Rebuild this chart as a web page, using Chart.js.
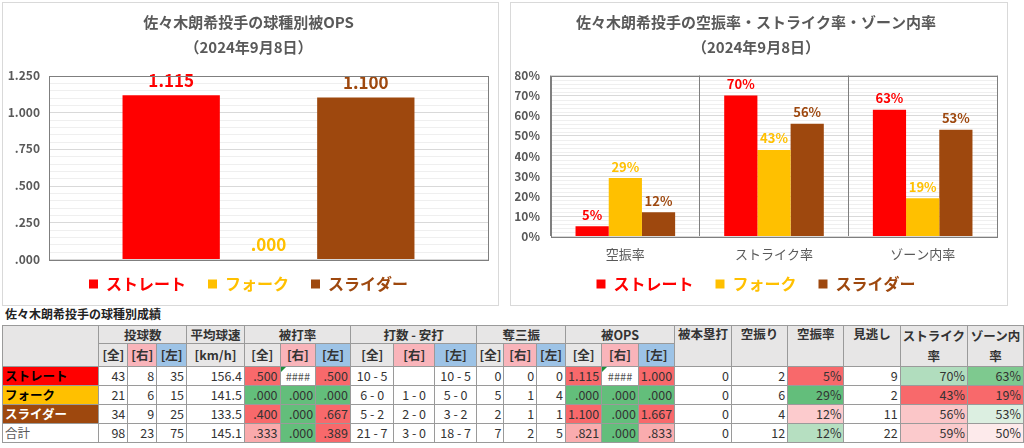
<!DOCTYPE html>
<html>
<head>
<meta charset="utf-8">
<script src="https://cdn.jsdelivr.net/npm/chart.js@4"></script>
<style>
  body { margin: 0; width: 1024px; height: 448px; background: #fff; font-family: "Noto Sans CJK JP", sans-serif; overflow: hidden; position: relative; }
  .panel { position: absolute; top: 2px; height: 302px; border: 1px solid #d9d9d9; background: #fff; }
  #p1 { left: 2px; width: 495px; }
  #p2 { left: 510px; width: 496px; }
  .panel canvas { display: block; }
  #ttl { position: absolute; left: 5px; top: 305px; font-size: 12px; font-weight: bold; color: #222; }
  table { position: absolute; left: 2px; top: 325px; border-collapse: collapse; table-layout: fixed; font-size: 12.5px; color: #333; }
  td { border: 1px solid #9a9a9a; padding: 0 2px; white-space: nowrap; overflow: hidden; line-height: 14px; text-align: right; }
  .h { background: #e7e6e6; font-weight: bold; text-align: center; color: #333; }
  .hr { background: #f9b4ba; }
  .hl { background: #9dc3e6; }
  .err { position: relative; color: #555; text-align: center; font-size: 11px; }
  .err::before { content: ""; position: absolute; left: 0; top: 0; border-top: 5px solid #1e8f3a; border-right: 5px solid transparent; }
</style>
</head>
<body>
<div class="panel" id="p1"><canvas id="opsChart" width="495" height="302"></canvas></div>
<div class="panel" id="p2"><canvas id="rateChart" width="496" height="302"></canvas></div>
<div id="ttl">佐々木朗希投手の球種別成績</div>
<table id="tbl"></table>
<script>
const pitchNames = ['ストレート', 'フォーク', 'スライダー'];
const pitchColors = ['#ff0000', '#ffc000', '#9e480e'];

// 被OPS
const opsCategory = [''];
const opsValues = [1.115, 0.000, 1.100];
const opsTicks = [0, 0.25, 0.5, 0.75, 1.0, 1.25];

// 空振率・ストライク率・ゾーン内率 (%)
const rateCategories = ['空振率', 'ストライク率', 'ゾーン内率'];
const straightRates = [5, 70, 63];
const forkRates = [29, 43, 19];
const sliderRates = [12, 56, 53];

// table
const tableHeadTop = ['投球数', '平均球速', '被打率', '打数 - 安打', '奪三振', '被OPS'];
const tableRows = [
  ['ストレート', '43', '8', '35', '156.4', '.500', '####', '.500', '10 - 5', '', '10 - 5', '0', '0', '0', '1.115', '####', '1.000', '0', '2', '5%', '9', '70%', '63%'],
  ['フォーク', '21', '6', '15', '141.5', '.000', '.000', '.000', '6 - 0', '1 - 0', '5 - 0', '5', '1', '4', '.000', '.000', '.000', '0', '6', '29%', '2', '43%', '19%'],
  ['スライダー', '34', '9', '25', '133.5', '.400', '.000', '.667', '5 - 2', '2 - 0', '3 - 2', '2', '1', '1', '1.100', '.000', '1.667', '0', '4', '12%', '11', '56%', '53%'],
  ['合計', '98', '23', '75', '145.1', '.333', '.000', '.389', '21 - 7', '3 - 0', '18 - 7', '7', '2', '5', '.821', '.000', '.833', '0', '12', '12%', '22', '59%', '50%']
];
// conditional fill per cell (col index -> colour)
const R = '#f8696b', G = '#63be7b';
const cellFills = [
  { 5: R, 7: R, 14: R, 16: R, 19: R, 21: '#b1ddbe', 22: '#7ec98f' },
  { 5: G, 6: G, 7: G, 14: G, 15: G, 16: G, 19: G, 21: R, 22: R },
  { 5: R, 6: G, 7: R, 14: R, 15: G, 16: R, 19: '#fccbcd', 21: '#fbc6c8', 22: '#dcefe1' },
  { 5: '#faaaac', 6: G, 7: R, 14: '#faacae', 15: G, 16: '#faacae', 19: '#b6dfc1', 21: '#fbcacc', 22: '#fdeaeb' }
];
const colWidths = [98, 29, 29, 30, 58, 36, 36, 35, 44, 41, 43, 25, 33, 29, 36, 37, 36, 57, 57, 57, 57, 58, 56];

const fontFamily = '"Noto Sans CJK JP", sans-serif';
const grayText = '#595959';

function fmtOps(v) {
  const s = v.toFixed(3);
  return v >= 1 ? s : s.slice(1);
}

const plotBorder = {
  id: 'plotBorder',
  afterDraw(chart) {
    const a = chart.chartArea, c = chart.ctx;
    c.save();
    c.strokeStyle = '#7f7f7f';
    c.lineWidth = 1;
    c.strokeRect(Math.round(a.left) + 0.5, Math.round(a.top) + 0.5, Math.round(a.right - a.left), Math.round(a.bottom - a.top));
    c.restore();
  }
};

// grid + labels of a value axis from a fixed list of tick values
function valueAxis(values, fmt, parts) {
  return {
    id: 'valueAxis',
    beforeDatasetsDraw(chart) {
      const y = chart.scales.y, a = chart.chartArea, c = chart.ctx;
      const line = (v, col) => {
        const py = Math.round(y.getPixelForValue(v)) + 0.5;
        c.strokeStyle = col;
        c.beginPath(); c.moveTo(a.left, py); c.lineTo(a.right, py); c.stroke();
      };
      c.save();
      c.lineWidth = 1;
      for (let t = 0; t < values.length - 1; t++) {
        for (let k = 1; k < parts; k++) line(values[t] + (values[t + 1] - values[t]) * k / parts, '#efefef');
      }
      values.forEach(v => line(v, '#d9d9d9'));
      c.restore();
    },
    afterDraw(chart) {
      const y = chart.scales.y, a = chart.chartArea, c = chart.ctx;
      c.save();
      c.font = 'bold 12px ' + fontFamily;
      c.fillStyle = grayText;
      c.textAlign = 'right';
      c.textBaseline = 'middle';
      values.forEach(v => c.fillText(fmt(v), a.left - 9, y.getPixelForValue(v)));
      c.restore();
    }
  };
}

// faint minor gridlines between the labelled ticks
function minorGrid(parts) {
  return {
    id: 'minorGrid',
    beforeDatasetsDraw(chart) {
      const y = chart.scales.y, a = chart.chartArea, c = chart.ctx;
      c.save();
      c.strokeStyle = '#efefef';
      c.lineWidth = 1;
      c.beginPath();
      for (let t = 0; t < y.ticks.length - 1; t++) {
        const v0 = y.ticks[t].value, v1 = y.ticks[t + 1].value;
        for (let k = 1; k < parts; k++) {
          const py = Math.round(y.getPixelForValue(v0 + (v1 - v0) * k / parts)) + 0.5;
          c.moveTo(a.left, py);
          c.lineTo(a.right, py);
        }
      }
      c.stroke();
      c.restore();
    }
  };
}

function barLabels(size, fmt, gap) {
  return {
    id: 'barLabels',
    afterDatasetsDraw(chart) {
      const c = chart.ctx;
      c.save();
      c.font = 'bold ' + size + 'px ' + fontFamily;
      c.textAlign = 'center';
      c.textBaseline = 'bottom';
      chart.data.datasets.forEach((ds, i) => {
        chart.getDatasetMeta(i).data.forEach((bar, j) => {
          c.fillStyle = ds.backgroundColor;
          c.fillText(fmt(ds.data[j]), bar.x, bar.y - gap);
        });
      });
      c.restore();
    }
  };
}

// legend sits closer to the plot than Chart.js' default box allows
function legendNudge(shrink, shift) {
  return {
    id: 'legendNudge',
    beforeInit(chart) {
      const lg = chart.legend, fit = lg.fit;
      lg.fit = function () { fit.call(this); this.height -= shrink; };
    },
    afterLayout(chart) {
      chart.legend.top += shift;
    }
  };
}

const legendOpts = {
  position: 'bottom',
  labels: {
    boxWidth: 9, boxHeight: 9, padding: 22,
    font: { size: 16, weight: 'bold', family: fontFamily },
    generateLabels: chart => chart.data.datasets.map((d, i) => ({
      text: d.label, fillStyle: d.backgroundColor, strokeStyle: d.backgroundColor,
      lineWidth: 0, fontColor: d.backgroundColor, datasetIndex: i, hidden: false
    }))
  }
};

function titleOpts(lines) {
  return {
    display: true, text: lines, color: grayText,
    font: { size: 15, weight: 'bold', family: fontFamily, lineHeight: 1.65 },
    padding: { top: 7, bottom: 16 }
  };
}

new Chart(document.getElementById('opsChart'), {
  type: 'bar',
  data: {
    labels: opsCategory,
    datasets: pitchNames.map((n, i) => ({
      label: n, data: [opsValues[i]], backgroundColor: pitchColors[i],
      categoryPercentage: 0.665, barPercentage: 1
    }))
  },
  options: {
    responsive: false, animation: false,
    layout: { padding: { left: 6, right: 10, bottom: 0 } },
    plugins: { title: titleOpts(['佐々木朗希投手の球種別被OPS', '（2024年9月8日）']), legend: legendOpts, tooltip: { enabled: false } },
    scales: {
      x: { ticks: { display: false }, grid: { display: false }, border: { display: false } },
      y: {
        min: opsTicks[0], max: opsTicks[opsTicks.length - 1],
        afterFit(s) { s.width = 40; },
        border: { display: false },
        grid: { display: false },
        ticks: { display: false }
      }
    }
  },
  plugins: [valueAxis(opsTicks, fmtOps, 5), plotBorder, barLabels(17, fmtOps, 6), legendNudge(10, -13)]
});

const rateSeries = [straightRates, forkRates, sliderRates];
new Chart(document.getElementById('rateChart'), {
  type: 'bar',
  data: {
    labels: rateCategories,
    datasets: pitchNames.map((n, i) => ({
      label: n, data: rateSeries[i], backgroundColor: pitchColors[i],
      categoryPercentage: 0.67, barPercentage: 1
    }))
  },
  options: {
    responsive: false, animation: false,
    layout: { padding: { left: 4, right: 10, bottom: 0 } },
    plugins: { title: titleOpts(['佐々木朗希投手の空振率・ストライク率・ゾーン内率', '（2024年9月8日）']), legend: legendOpts, tooltip: { enabled: false } },
    scales: {
      x: {
        border: { display: false },
        grid: { offset: true, drawTicks: false, color: '#7f7f7f', z: 1 },
        ticks: { padding: 10, color: grayText, font: { size: 13, family: fontFamily } }
      },
      y: {
        min: 0, max: 80,
        afterFit(s) { s.width = 36; },
        border: { display: false },
        grid: { drawTicks: false, color: '#d9d9d9' },
        ticks: { count: 9, autoSkip: false, padding: 11, color: grayText, font: { size: 12, weight: 'bold', family: fontFamily }, callback: v => Math.round(v) + '%' }
      }
    }
  },
  plugins: [minorGrid(5), plotBorder, barLabels(13, v => v + '%', 5), legendNudge(15, -18)]
});

// table
(function buildTable() {
  const t = document.getElementById('tbl');
  let html = '<colgroup>' + colWidths.map(w => '<col style="width:' + w + 'px">').join('') + '</colgroup>';
  const sub = '<td class="h">[全]</td><td class="h hr">[右]</td><td class="h hl">[左]</td>';
  html += '<tr style="height:17px">' +
    '<td class="h" rowspan="2"></td>' +
    '<td class="h" colspan="3">' + tableHeadTop[0] + '</td>' +
    '<td class="h">' + tableHeadTop[1] + '</td>' +
    '<td class="h" colspan="3">' + tableHeadTop[2] + '</td>' +
    '<td class="h" colspan="3">' + tableHeadTop[3] + '</td>' +
    '<td class="h" colspan="3">' + tableHeadTop[4] + '</td>' +
    '<td class="h" colspan="3">' + tableHeadTop[5] + '</td>' +
    '<td class="h" rowspan="2" style="vertical-align:top;padding-top:1px">被本塁打</td>' +
    '<td class="h" rowspan="2" style="vertical-align:top;padding-top:1px">空振り</td>' +
    '<td class="h" rowspan="2" style="vertical-align:top;padding-top:1px">空振率</td>' +
    '<td class="h" rowspan="2" style="vertical-align:top;padding-top:1px">見逃し</td>' +
    '<td class="h" rowspan="2" style="vertical-align:top;line-height:20px">ストライク<br>率</td>' +
    '<td class="h" rowspan="2" style="vertical-align:top;line-height:20px">ゾーン内<br>率</td>' +
    '</tr>';
  html += '<tr style="height:21px">' + sub + '<td class="h">[km/h]</td>' + sub + sub + sub + sub + '</tr>';
  const labelStyle = [
    'background:#ff0000;color:#000;font-weight:bold',
    'background:#ffc000;color:#000;font-weight:bold',
    'background:#9e480e;color:#fff;font-weight:bold',
    'background:#fff;color:#595959'
  ];
  tableRows.forEach((row, r) => {
    html += '<tr style="height:19px">';
    row.forEach((cell, c) => {
      if (c === 0) {
        html += '<td style="text-align:left;' + labelStyle[r] + '">' + cell + '</td>';
        return;
      }
      let st = '';
      if (cellFills[r][c]) st += 'background:' + cellFills[r][c] + ';';
      if (c >= 8 && c <= 10) st += 'text-align:center;';
      const cls = cell === '####' ? ' class="err"' : '';
      html += '<td' + cls + ' style="' + st + '">' + cell + '</td>';
    });
    html += '</tr>';
  });
  t.innerHTML = html;
})();
</script>
</body>
</html>
